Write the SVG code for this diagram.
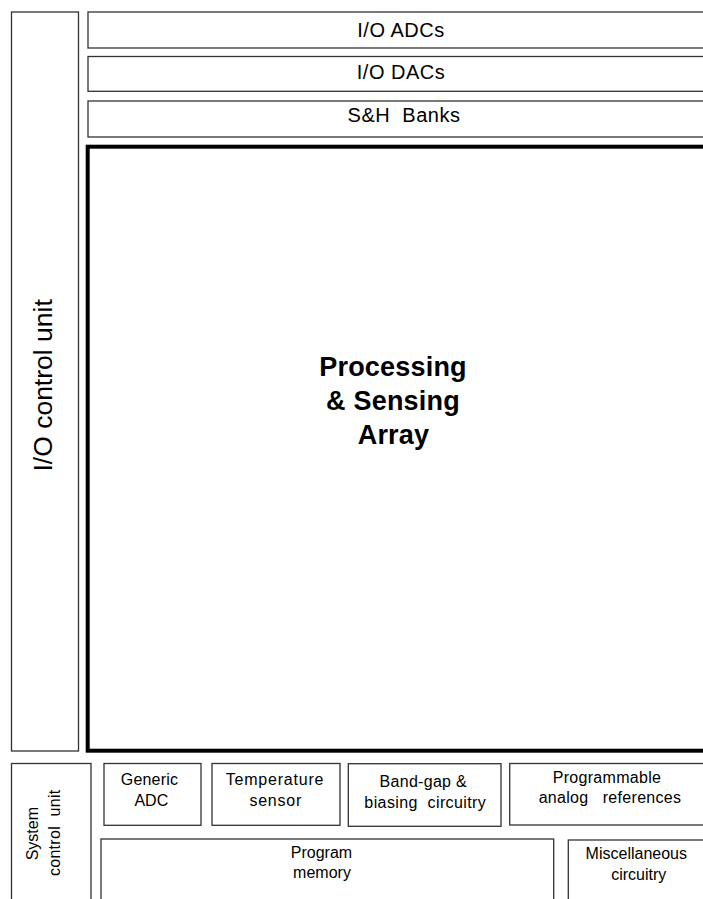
<svg xmlns="http://www.w3.org/2000/svg" width="703" height="899" viewBox="0 0 703 899">
<style>
.box{fill:#fff;stroke:#333;stroke-width:1.3}
.thick{fill:#fff;stroke:#000;stroke-width:4}
text{font-family:"Liberation Sans",Arial,sans-serif;fill:#000;text-anchor:middle}
.t20{font-size:20px}
.t16{font-size:16px}
.big{font-size:26.5px}
.bold{font-size:27px;font-weight:bold}
</style>
<rect width="703" height="899" fill="#fff"/>
<g id="connectors"></g>
<g id="io-control-unit">
<rect class="box" x="11.5" y="12" width="67" height="739"/>
<text class="big" transform="translate(52.3,385.4) rotate(-90)">I/O control unit</text>
</g>
<g id="io-adcs">
<rect class="box" x="88" y="12" width="630" height="36"/>
<text class="t20" x="401" y="36.7" letter-spacing="0.5">I/O ADCs</text>
</g>
<g id="io-dacs">
<rect class="box" x="88" y="56.5" width="630" height="34.8"/>
<text class="t20" x="401" y="78.5" letter-spacing="0.5">I/O DACs</text>
</g>
<g id="sh-banks">
<rect class="box" x="88" y="101" width="630" height="36"/>
<text class="t20" x="404" y="121.7" letter-spacing="0.5" xml:space="preserve">S&amp;H  Banks</text>
</g>
<g id="processing-array">
<rect class="thick" x="87.7" y="146.7" width="630" height="604"/>
<text class="bold" x="393" y="376" letter-spacing="0.2">Processing</text>
<text class="bold" x="393" y="410" letter-spacing="0.2">&amp; Sensing</text>
<text class="bold" x="393.5" y="443.5" letter-spacing="0.2">Array</text>
</g>
<g id="system-control-unit">
<rect class="box" x="11.5" y="763.5" width="79.5" height="150"/>
<text class="t16" transform="translate(38.3,833.7) rotate(-90)">System</text>
<text class="t16" transform="translate(60,832.8) rotate(-90)" xml:space="preserve" letter-spacing="0.3">control  unit</text>
</g>
<g id="generic-adc">
<rect class="box" x="104" y="763.5" width="97" height="61.8"/>
<text class="t16" x="149.5" y="785" letter-spacing="0.2">Generic</text>
<text class="t16" x="151.3" y="805.7">ADC</text>
</g>
<g id="temperature-sensor">
<rect class="box" x="212" y="763.5" width="128" height="61.8"/>
<text class="t16" x="275" y="785" letter-spacing="0.8">Temperature</text>
<text class="t16" x="275.8" y="805.7" letter-spacing="0.8">sensor</text>
</g>
<g id="bandgap">
<rect class="box" x="348.3" y="763.7" width="152.7" height="62.6"/>
<text class="t16" x="423.3" y="786.7" xml:space="preserve" letter-spacing="0.3">Band-gap &amp;</text>
<text class="t16" x="425.3" y="808.3" xml:space="preserve" letter-spacing="0.4">biasing  circuitry</text>
</g>
<g id="programmable-references">
<rect class="box" x="509.7" y="763.5" width="210" height="61.5"/>
<text class="t16" x="607" y="782.7" letter-spacing="0.3">Programmable</text>
<text class="t16" x="610" y="803.3" xml:space="preserve" letter-spacing="0.3">analog   references</text>
</g>
<g id="program-memory">
<rect class="box" x="101" y="839" width="452.7" height="80"/>
<text class="t16" x="321.5" y="858.3">Program</text>
<text class="t16" x="322" y="878.3">memory</text>
</g>
<g id="misc-circuitry">
<rect class="box" x="568.3" y="840" width="150" height="80"/>
<text class="t16" x="636.3" y="859.3">Miscellaneous</text>
<text class="t16" x="638.8" y="880">circuitry</text>
</g>
</svg>
